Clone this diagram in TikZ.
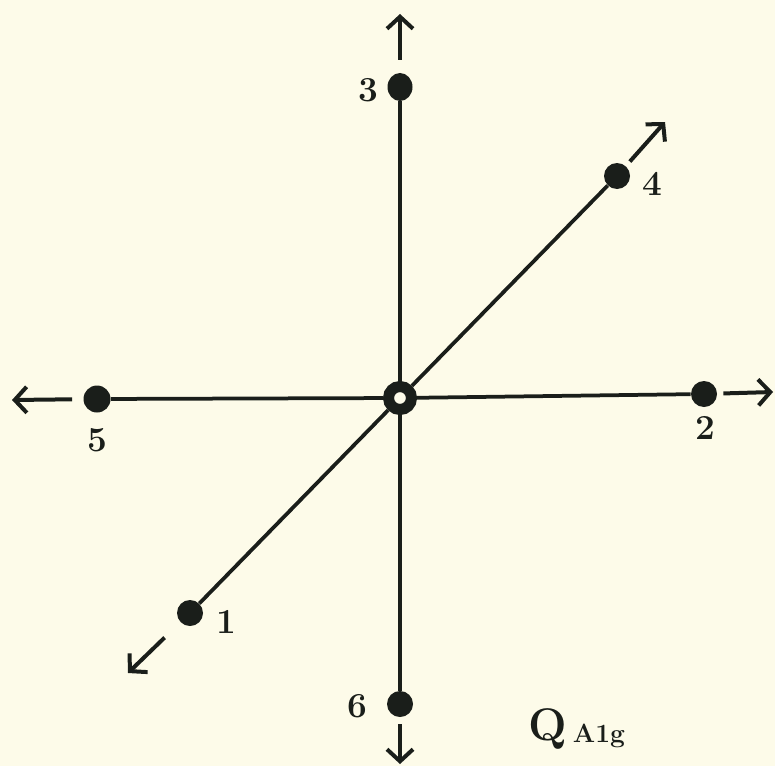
\documentclass[tikz,border=0pt]{standalone}
\definecolor{paper}{RGB}{253,251,233}
\definecolor{ink}{RGB}{26,30,26}
\usepackage{tikz}
\usetikzlibrary{arrows.meta,shapes.geometric}

\begin{document}
\begin{tikzpicture}[x=0.2mm,y=-0.2mm,
    site/.style={circle,fill=ink,inner sep=0pt,minimum size=5.2mm},
    hub/.style={circle,draw=ink,fill=paper,line width=2.2mm,inner sep=0pt,minimum size=4.6mm},
    axis/.style={ink,line width=0.75mm},
    motion/.style={ink,line width=0.8mm,-{Straight Barb[length=2.4mm,width=5.2mm]}},
    lbl/.style={font=\fontsize{20}{24}\selectfont\bfseries,text=ink}]
        \fill[paper] (0,0) rectangle (775,766);
        % atoms and the central ion
        \node[hub] (c) at (400,398) {};
        \node[site] (s1) at (190,613) {};
        \node[site] (s2) at (704,394) {};
        \node[site,ellipse,minimum width=5mm,minimum height=5.6mm] (s3) at (400,87) {};
        \node[site] (s4) at (617,176) {};
        \node[site,minimum size=5.4mm] (s5) at (97,399) {};
        \node[site] (s6) at (400,704) {};
        \draw[axis] (s3) -- (c);
        \draw[axis] (c) -- (s6);
        \draw[axis] (s5) -- (c);
        \draw[axis] (c) -- (s2);
        \draw[axis] (s1) -- (c);
        \draw[axis] (c) -- (s4);
        % displacements
        \coordinate (tip1) at (128,673);
        \coordinate (tip2) at (773,392);
        \coordinate (tip3) at (400,14);
        \coordinate (tip4) at (665,122);
        \coordinate (tip5) at (12,400);
        \coordinate (tip6) at (400,764);
        \draw[motion,shorten <=4.4mm] (s1) -- (tip1);
        \draw[motion,shorten <=1.2mm] (s2) -- (tip2);
        \draw[motion,shorten <=2.6mm] (s3) -- (tip3);
        \draw[motion,shorten <=1.2mm] (s4) -- (tip4);
        \draw[motion,shorten <=2.2mm] (s5) -- (tip5);
        \draw[motion,shorten <=1.4mm] (s6) -- (tip6);
        \node[lbl] (n1) at (226,622) {1};
        \node[lbl] (n2) at (705,428) {2};
        \node[lbl] (n3) at (368,90) {3};
        \node[lbl] (n4) at (652,184) {4};
        \node[lbl] (n5) at (97,440) {5};
        \node[lbl] (n6) at (357,706) {6};
        \node[text=ink,anchor=base west,inner sep=0pt] (q) at (528,740)
          {\fontsize{26}{32}\selectfont\bfseries Q\hspace{1.2mm}\raisebox{-0.5mm}{\fontsize{15}{18}\selectfont A1g}};
      \end{tikzpicture}
\end{document}
